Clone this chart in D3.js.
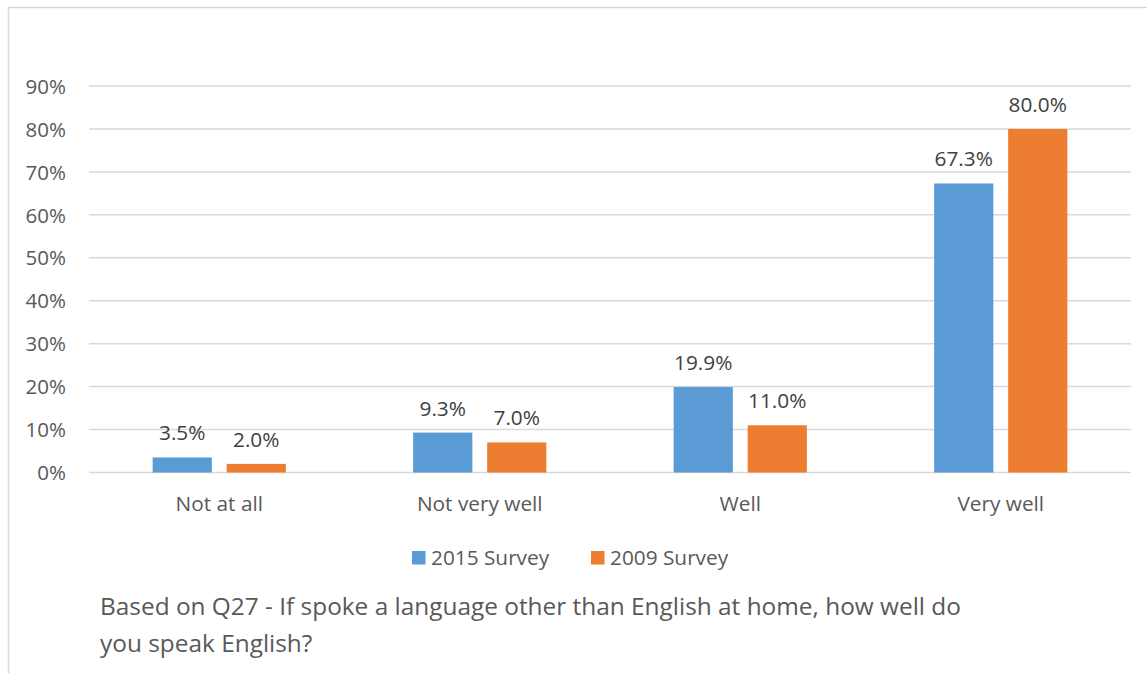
<!DOCTYPE html>
<html><head><meta charset="utf-8">
<script src="https://cdn.jsdelivr.net/npm/d3@7"></script>
<style>body{margin:0;background:#fff;} text{font-family:"Open Sans",sans-serif;}</style>
</head><body>
<svg id="c" width="1147" height="673"></svg>
<script>
const categories = ["Not at all", "Not very well", "Well", "Very well"];
const seriesNames = ["2015 Survey", "2009 Survey"];
const values2015 = [3.5, 9.3, 19.9, 67.3];
const values2009 = [2.0, 7.0, 11.0, 80.0];
const yTicks = [0,10,20,30,40,50,60,70,80,90];
const captionLines = ["Based on Q27 - If spoke a language other than English at home, how well do", "you speak English?"];
const colors = ["#5B9BD5", "#ED7D31"];

const svg = d3.select("#c");
// frame
svg.append("line").attr("x1",8.5).attr("x2",8.5).attr("y1",7).attr("y2",673).attr("stroke","#d9d9d9").attr("stroke-width",1.5);
svg.append("line").attr("x1",8).attr("x2",1147).attr("y1",7.5).attr("y2",7.5).attr("stroke","#d9d9d9").attr("stroke-width",1.5);

const L=89, R=1131, T=86, B=472.5;
const x = d3.scaleBand().domain(categories).range([L,R]).paddingInner(0).paddingOuter(0);
const y = d3.scaleLinear().domain([0,90]).range([B,T]);
const x1 = d3.scaleBand().domain(seriesNames).range([0,x.bandwidth()]).paddingInner(0.2).paddingOuter(0.86);

const yAxis = d3.axisLeft(y).tickValues(yTicks).tickFormat(d=>d+"%").tickSize(0).tickPadding(23);
const gy = svg.append("g").attr("transform",`translate(${L},0)`).call(yAxis);
gy.select(".domain").remove();
gy.selectAll("text").attr("fill","#595959").style("font-size","20.5px").attr("dy","0.35em");

svg.append("g").selectAll("line").data(yTicks).join("line")
  .attr("x1",L).attr("x2",R).attr("y1",d=>y(d)).attr("y2",d=>y(d))
  .attr("stroke","#d9d9d9").attr("stroke-width",1.5);

const data = categories.map((c,i)=>({c, vals:[values2015[i], values2009[i]]}));
const groups = svg.append("g").selectAll("g").data(data).join("g").attr("transform",d=>`translate(${x(d.c)},0)`);
groups.selectAll("rect").data(d=>d.vals.map((v,j)=>({v,s:seriesNames[j],j}))).join("rect")
  .attr("x",d=>x1(d.s)).attr("width",x1.bandwidth())
  .attr("y",d=>y(d.v)).attr("height",d=>B-y(d.v)).attr("fill",d=>colors[d.j]);
groups.selectAll("text.lbl").data(d=>d.vals.map((v,j)=>({v,s:seriesNames[j],j}))).join("text").attr("class","lbl")
  .attr("x",d=>x1(d.s)+x1.bandwidth()/2).attr("y",d=>y(d.v)-17)
  .attr("text-anchor","middle").attr("fill","#404040").style("font-size","20.8px")
  .text(d=>d.v.toFixed(1)+"%");

const xAxis = d3.axisBottom(x).tickSize(0).tickPadding(23.5);
const gx = svg.append("g").attr("transform",`translate(0,${B})`).call(xAxis);
gx.select(".domain").remove();
gx.selectAll("text").attr("fill","#595959").style("font-size","20.8px");

// legend
const leg = svg.append("g");
const legX = [412, 591];
seriesNames.forEach((s,i)=>{
  leg.append("rect").attr("x",legX[i]).attr("y",551).attr("width",13.5).attr("height",13.5).attr("fill",colors[i]);
  leg.append("text").attr("x",legX[i]+19).attr("y",565).attr("fill","#595959").style("font-size","20.8px").text(s);
});

svg.append("g").selectAll("text").data(captionLines).join("text")
  .attr("x",100).attr("y",(d,i)=>615+i*36.5).attr("fill","#595959").style("font-size","24.4px").text(d=>d);
</script>
</body></html>
